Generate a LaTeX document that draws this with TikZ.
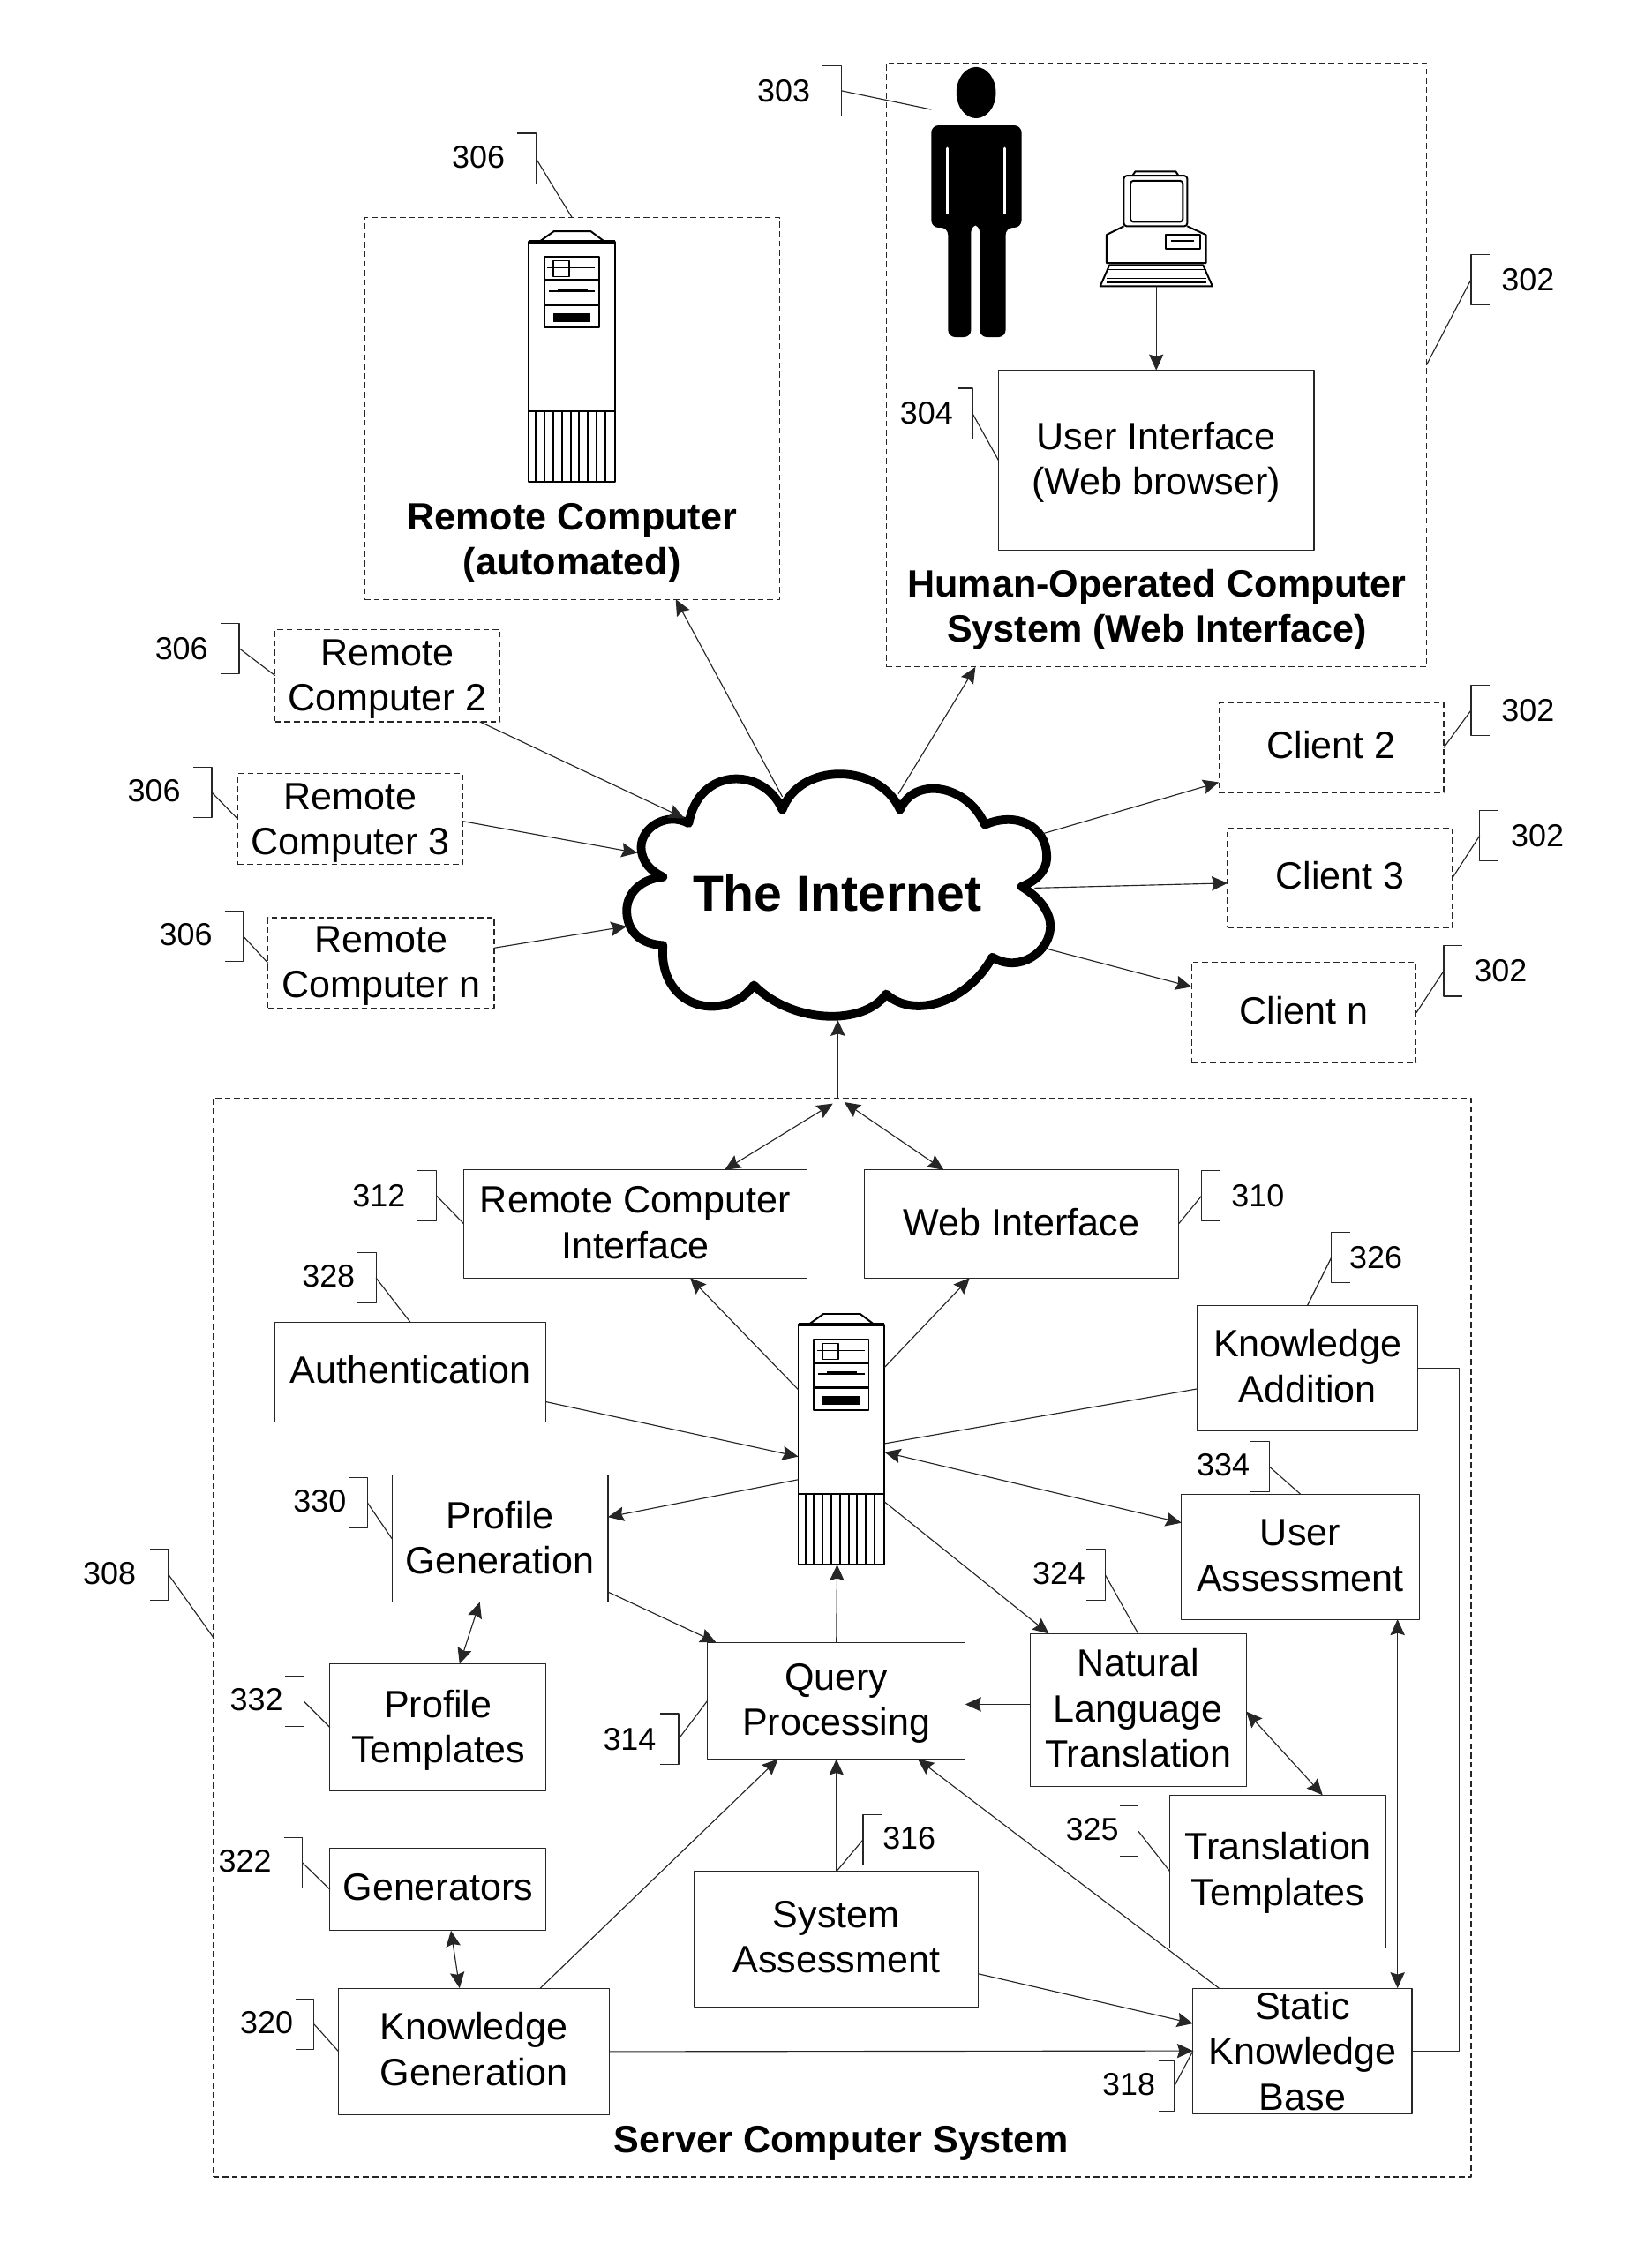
\documentclass[tikz,border=0pt]{standalone}
\usepackage{fontspec}
\setmainfont{Liberation Sans}
\usetikzlibrary{arrows.meta,calc}
\begin{document}
\begin{tikzpicture}[x=1pt,y=-1pt,line join=round,
		thinline/.style={line width=.7pt,draw=black!85},
		sized/.style n args={2}{minimum width=#1pt,minimum height=#2pt,inner sep=0pt,outer sep=0pt},
		drop/.style={text height=#1pt,text depth=0pt},
		solidbox/.style={thinline,align=center,font=\fontsize{26.4}{31.5}\selectfont},
		dashbox/.style={solidbox,dash pattern=on 4pt off 2.5pt},
		boldlabel/.style={align=center,font=\fontsize{26.4}{31.5}\selectfont\bfseries},
		reflabel/.style={font=\fontsize{22}{26}\selectfont},
		arrow/.style={thinline,-{Stealth[length=11pt,width=10pt,inset=1.5pt]}},
		twoway/.style={thinline,{Stealth[length=11pt,width=10pt,inset=1.5pt]}-{Stealth[length=11pt,width=10pt,inset=1.5pt]}},
		icon/.style={line width=1.2pt,draw=black},
		tower/.pic={
			\draw[icon] (7,7.5) -- (17.5,0) -- (43,0) -- (53,7.5);
			\draw[line width=2.2pt] (0,7.5) -- (60,7.5);
			\draw[icon] (0,7.5) rectangle (60,174);
			\draw[icon] (0,125) -- (60,125);
			\foreach \vent in {5,11,...,53}
				\draw[icon] (\vent,125) -- (\vent,174);
			\draw[icon] (11,18) rectangle (49,67);
			\draw[line width=1.6pt] (11,34) -- (49,34) (11,51) -- (49,51);
			\draw[line width=1pt] (17,20.6) rectangle (28,31.6);
			\draw[line width=1pt] (13,25.5) -- (46,25.5) (14,41.5) -- (46,41.5);
			\draw[line width=1.8pt] (20,41) -- (41,41);
			\fill (17,57) rectangle (43,63);
		}]
	\useasboundingbox (0,0) rectangle (1146,1568);
	\node[dashbox,sized={288}{265},draw] (rcbox) at (397,283.5) {};
	\node[dashbox,sized={375}{419},draw] (hobox) at (802.5,253.5) {};
	\node[dashbox,sized={873}{749},draw] (server) at (584.5,1136.5) {};
	\node[boldlabel] (rctitle) at (397,377) {Remote Computer\\(automated)};
	\node[boldlabel] (hotitle) at (803,423) {Human-Operated Computer\\System (Web Interface)};
	\node[boldlabel] (srvtitle) at (584,1487.5) {Server Computer System};
	\node[solidbox,sized={219}{125},draw,drop=48] (ui) at (802.5,319.5) {User Interface\\(Web browser)};
	\node[dashbox,sized={156}{64},draw,drop=49] (rc2) at (269,469) {Remote\\Computer 2};
	\node[dashbox,sized={156}{63},draw,drop=50] (rc3) at (243,568.5) {Remote\\Computer 3};
	\node[dashbox,sized={157}{63},draw,drop=48] (rcn) at (264.5,668.5) {Remote\\Computer n};
	\node[dashbox,sized={156}{62},draw,drop=15] (c2) at (924,519) {Client 2};
	\node[dashbox,sized={156}{69},draw,drop=15] (c3) at (930,609.5) {Client 3};
	\node[dashbox,sized={156}{70},draw,drop=15] (cn) at (905,703) {Client n};
	\node[solidbox,sized={238}{75},draw,drop=48] (rci) at (441,849.5) {Remote Computer\\Interface};
	\node[solidbox,sized={218}{75},draw,drop=17] (web) at (709,849.5) {Web Interface};
	\node[solidbox,sized={188}{69},draw,drop=15] (auth) at (285,952.5) {Authentication};
	\node[solidbox,sized={153}{87},draw,drop=48] (kadd) at (907.5,949.5) {Knowledge\\Addition};
	\node[solidbox,sized={165}{87},draw,drop=48] (uass) at (902.5,1080.5) {User\\Assessment};
	\node[solidbox,sized={150}{88},draw,drop=49] (prof) at (347,1068) {Profile\\Generation};
	\node[solidbox,sized={179}{81},draw,drop=48] (qp) at (580.5,1180.5) {Query\\Processing};
	\node[solidbox,sized={150}{106},draw,drop=79] (nlt) at (790,1187) {Natural\\Language\\Translation};
	\node[solidbox,sized={150}{88},draw,drop=49] (ptm) at (304,1199) {Profile\\Templates};
	\node[solidbox,sized={150}{106},draw,drop=47] (ttm) at (887,1299) {Translation\\Templates};
	\node[solidbox,sized={150}{57},draw,drop=15] (gen) at (304,1311.5) {Generators};
	\node[solidbox,sized={197}{94},draw,drop=47] (sass) at (580.5,1346) {System\\Assessment};
	\node[solidbox,sized={188}{88},draw,drop=47] (kgen) at (329,1424) {Knowledge\\Generation};
	\node[solidbox,sized={152}{87},draw,drop=82] (skb) at (904,1423.5) {Static\\Knowledge\\Base};
	\node[sized={60}{174}] (srv) at (584,999) {};
	\node[sized={60}{174}] (rctower) at (397,247.5) {};
	\pic at (srv.north west) {tower};
	\pic at (rctower.north west) {tower};
	\node[sized={63}{188}] (man) at (677.5,140) {};
	\fill (677.5,64.3) ellipse (13.7 and 17.8);
	\fill[rounded corners=5pt] (646.4,87) -- (709,87) -- (709,158) -- (698,158) -- (698,234) -- (680,234) -- (680,156) -- (674,156) -- (674,234) -- (658,234) -- (658,158) -- (646.4,158) -- cycle;
	\draw[white,line width=1.8pt,line cap=round] (657.5,103) -- (657.5,148) (697.5,103) -- (697.5,148);
	\coordinate (manside) at (646.4,76);
	\node[sized={78}{80}] (pc) at (802.5,159) {};
	\draw[icon,rounded corners=2pt] (780,122) rectangle (824,157);
	\draw[icon,rounded corners=2pt] (784.6,125.5) rectangle (821,154);
	\draw[icon] (786,122) -- (788,119) -- (816,119) -- (818,122);
	\draw[icon] (780,157) -- (768,163) -- (768,182.6) -- (837,182.6) -- (837,163) -- (824,157);
	\draw[icon] (809,163) rectangle (833,172.7);
	\draw[icon] (813,167) -- (829,167);
	\draw[icon] (770,184) -- (835,184) -- (841.5,198.7) -- (763.6,198.7) -- cycle;
	\foreach \row in {187,190,193,196}
		\draw[line width=.7pt] (768,\row) -- (837,\row);
	\draw[line width=6pt] (478,571.5) .. controls (485,532) and (530,532) .. (543,562)
		.. controls (555,529) and (610,529) .. (624.7,562)
		.. controls (635,538) and (672,545) .. (683.6,572.5)
		.. controls (705,563) and (726,573) .. (726.5,594)
		.. controls (727,605) and (718,612) .. (709,615.4)
		.. controls (720,622) and (729,632) .. (729,643)
		.. controls (729,660) and (708,676) .. (688.7,664.4)
		.. controls (672,695) and (635,708) .. (615,690)
		.. controls (600,712) and (550,711) .. (523.2,683.8)
		.. controls (515,695) and (503,699) .. (492,698.5)
		.. controls (470,697) and (458,678) .. (460.2,656.2)
		.. controls (440,655) and (435,642) .. (435,632)
		.. controls (435,620) and (445,610) .. (460.2,608.7)
		.. controls (452,605) and (445,598) .. (445,588)
		.. controls (445,575) and (462,563) .. (478,571.5) -- cycle;
	\node[font=\fontsize{35}{40}\selectfont\bfseries] (net) at (581,620) {The Internet};
	\coordinate (nettop1) at (543,553);
	\coordinate (nettop2) at (623.5,551);
	\coordinate (netin2) at (475,568);
	\coordinate (netin3) at (442.4,592);
	\coordinate (netinn) at (435,643);
	\coordinate (netout2) at (723.7,578.7);
	\coordinate (netout3) at (718,616.4);
	\coordinate (netoutn) at (725.5,658.3);
	\coordinate (netbottom) at (581.5,708);
	\coordinate (hub) at ([xshift=-3pt]server.north);
	\coordinate (hubleft) at (578,766);
	\coordinate (hubright) at (586,765);
	\draw[arrow] (nettop1) -- ([xshift=72pt]rcbox.south);
	\draw[arrow] (nettop2) -- ([xshift=-125.5pt]hobox.south);
	\draw[arrow] ([xshift=64pt]rc2.south) -- (netin2);
	\draw[arrow] ([yshift=-1.5pt]rc3.east) -- (netin3);
	\draw[arrow] ([yshift=10.5pt]rcn.east) -- (netinn);
	\draw[arrow] (netout2) -- ([yshift=-24pt]c2.west);
	\draw[arrow] (netout3) -- ([yshift=-3.5pt]c3.west);
	\draw[arrow] (netoutn) -- ([yshift=18pt]cn.west);
	\draw[arrow] (hub) -- (netbottom);
	\draw[twoway] ([xshift=62pt]rci.north) -- (hubleft);
	\draw[twoway] ([xshift=-54pt]web.north) -- (hubright);
	\draw[arrow] (pc.south) -- (ui.north);
	\draw[arrow] ([yshift=34.5pt]srv.west) -- ([xshift=38pt]rci.south);
	\draw[arrow] ([yshift=50pt]srv.east) -- ([xshift=-36pt]web.south);
	\draw[arrow] ([yshift=-20.5pt]auth.east) -- ([yshift=-12pt]srv.west);
	\draw[thinline] ([yshift=-14.5pt]kadd.west) -- ([yshift=-3pt]srv.east);
	\draw[twoway] ([yshift=-9pt]srv.east) -- ([yshift=23.5pt]uass.west);
	\draw[arrow] ([yshift=-28pt]srv.west) -- ([yshift=15pt]prof.east);
	\draw[arrow] ([yshift=-43.5pt]srv.east) -- ([xshift=-62pt]nlt.north);
	\draw[arrow] (qp.north) -- ([xshift=-3pt]srv.south);
	\draw[arrow] ([yshift=-37pt]prof.east) -- ([xshift=-83.5pt]qp.north);
	\draw[arrow] ([yshift=4pt]nlt.west) -- ([yshift=-2.5pt]qp.east);
	\draw[twoway] ([xshift=-14pt]prof.south) -- ([xshift=15pt]ptm.north);
	\draw[twoway] ([yshift=-1pt]nlt.east) -- ([xshift=31pt]ttm.north);
	\draw[twoway] ([xshift=67.5pt]uass.south) -- ([xshift=66pt]skb.north);
	\draw[thinline] (kadd.east) -- ++(29,0) |- (skb.east);
	\draw[twoway] ([xshift=9pt]gen.south) -- ([xshift=-10pt]kgen.north);
	\draw[arrow] ([xshift=46pt]kgen.north) -- ([xshift=-40.5pt]qp.south);
	\draw[arrow] (kgen.east) -- (skb.west);
	\draw[arrow] (sass.north) -- (qp.south);
	\draw[arrow] ([yshift=-24pt]sass.east) -- ([yshift=19pt]skb.west);
	\draw[arrow] ([xshift=-58pt]skb.north) -- ([xshift=56.5pt]qp.south);
	\foreach \nm/\tx/\ty/\bx/\by/\arm/\num/\tgt in {
		a/544/63/584/63/-13/303/manside,
		b/332/109/372/110/-13/306/rcbox.north,
		c/643/287/675/287/-10/304/ui.west,
		d/126/450/166/450/-13/306/rc2.west,
		e/107/549/147/550/-13/306/rc3.west,
		f/129/649/169/650/-13/306/rcn.west,
		g/263/830/303/830/-13/312/rci.west,
		h/228/886/261/887/-13/328/auth.north,
		i/849/1017/881/1018/-13/334/uass.north,
		j/222/1042/255/1043/-13/330/prof.west,
		k/735/1092/767/1093/-13/324/nlt.north,
		l/76/1092/117/1093/-13/308/server.west,
		m/178/1180/211/1181/-13/332/ptm.west,
		n/437/1207/471/1207/-13/314/qp.west,
		o/758/1270/790/1271/-13/325/ttm.west,
		p/170/1292/210/1293/-13/322/gen.west,
		q/185/1404/218/1405/-13/320/kgen.west,
		r/783.5/1447/815/1448/-11/318/skb.west,
		s/1060.5/194/1021/194/13/302/hobox.east,
		t/1060.5/493/1021/493/13/302/c2.east,
		u/1067/580/1027/580/13/302/c3.east,
		v/1041.5/674/1002/674/13/302/cn.east,
		w/873/830/834/830/13/310/web.east,
		x/955/873/924/873/13/326/kadd.north,
		y/631/1276/599/1277/13/316/sass.north} {
		\node[reflabel] (lab\nm) at (\tx,\ty) {\num};
		\coordinate (brk\nm) at (\bx,\by);
		\draw[thinline] (\bx+\arm,\by-17.5) -- (\bx,\by-17.5) -- (\bx,\by+17.5) -- (\bx+\arm,\by+17.5);
		\draw[thinline] (brk\nm) -- (\tgt);
	}
\end{tikzpicture}
\end{document}
